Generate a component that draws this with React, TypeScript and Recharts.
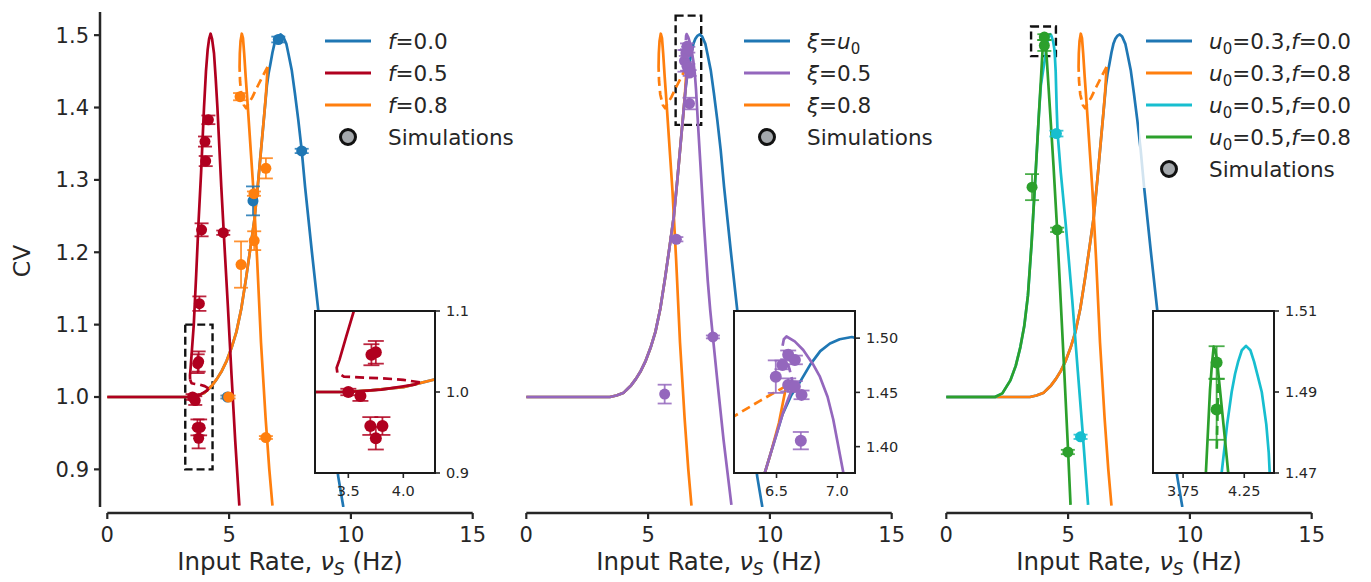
import React from 'react'
import {
  ComposedChart,
  ErrorBar,
  Line,
  ReferenceArea,
  ReferenceLine,
  Scatter,
  XAxis,
  YAxis,
} from 'recharts'

type XY = [number, number]
type Sim = [number, number, number] // x, y, y-error

const INK = '#262626'
const FONT = 'DejaVu Sans'
const BLUE = '#1f77b4'
const RED = '#b0001f'
const ORANGE = '#ff7f0e'
const PURPLE = '#9467bd'
const CYAN = '#17becf'
const GREEN = '#2ca02c'

// axes
const X_DOMAIN: [number, number] = [-0.3, 15.3]
const X_TICKS = [0, 5, 10, 15]
const Y_DOMAIN: [number, number] = [0.848, 1.532]
const Y_TICKS = [0.9, 1.0, 1.1, 1.2, 1.3, 1.4, 1.5]
const SPINE_Y = 0.8398 // offset bottom spine sits just under the plot
const SPINE_PX = 513

// shared rising branch (u0 = 0.3)
const riseU03: XY[] = [
  [0, 1], [1, 1], [2, 1], [3, 1], [3.43, 1.0], [3.7, 1.002], [4.0, 1.006],
  [4.15, 1.011], [4.3, 1.016], [4.5, 1.025], [4.7, 1.036], [4.9, 1.05],
  [5.1, 1.068], [5.3, 1.09], [5.5, 1.122], [5.7, 1.165], [5.9, 1.212],
  [6.05, 1.248], [6.2, 1.3], [6.35, 1.356], [6.45, 1.393],
]
// shared rising branch (u0 = 0.5)
const riseU05: XY[] = [
  [0, 1], [1, 1], [2, 1], [2.3, 1.005], [2.63, 1.023], [2.85, 1.043],
  [3.04, 1.069], [3.2, 1.098], [3.35, 1.14], [3.5, 1.212], [3.65, 1.3], [3.8, 1.39],
]

const blueTop: XY[] = [
  [6.55, 1.43], [6.62, 1.447], [6.69, 1.459], [6.78, 1.476], [6.86, 1.488],
  [6.94, 1.495], [7.02, 1.499], [7.12, 1.501], [7.22, 1.498], [7.35, 1.488],
  [7.45, 1.472], [7.57, 1.452], [7.7, 1.42], [7.84, 1.383], [7.98, 1.341],
  [8.12, 1.29], [8.4, 1.2], [8.66, 1.12], [9.0, 1.02], [9.3, 0.94], [9.48, 0.89],
  [9.69, 0.848],
]

const orangeFold: XY[] = [[6.52, 1.422], [6.58, 1.456]]
const orangeDash: XY[] = [
  [6.58, 1.456], [6.36, 1.442], [6.15, 1.428], [5.95, 1.414], [5.79, 1.405],
  [5.7, 1.399], [5.6, 1.404], [5.5, 1.418], [5.45, 1.436], [5.43, 1.456],
]
const orangeHigh: XY[] = [
  [5.43, 1.456], [5.44, 1.475], [5.47, 1.492], [5.52, 1.502], [5.57, 1.496],
  [5.62, 1.474], [5.68, 1.443], [5.75, 1.41], [5.82, 1.375], [5.9, 1.335],
  [6.0, 1.285], [6.15, 1.19], [6.31, 1.075], [6.5, 0.97], [6.65, 0.9], [6.78, 0.85],
]

const redLow: XY[] = [
  [0, 1], [1, 1], [2, 1], [3, 1], [3.5, 1.0], [3.8, 1.003], [4.0, 1.007],
  [4.1, 1.009], [4.15, 1.012],
]
const redDash: XY[] = [
  [4.15, 1.012], [4.0, 1.015], [3.8, 1.017], [3.6, 1.018], [3.46, 1.019], [3.4, 1.024],
]
const redHigh: XY[] = [
  [3.4, 1.024], [3.394, 1.03], [3.42, 1.04], [3.48, 1.068], [3.55, 1.1],
  [3.65, 1.17], [3.75, 1.245], [3.85, 1.31], [3.97, 1.4], [4.05, 1.45],
  [4.12, 1.48], [4.18, 1.495], [4.24, 1.502], [4.3, 1.495], [4.38, 1.475],
  [4.45, 1.44], [4.52, 1.4], [4.6, 1.345], [4.68, 1.29], [4.8, 1.215],
  [4.95, 1.125], [5.1, 1.03], [5.25, 0.94], [5.42, 0.85],
]

const purpleFold: XY[] = [[6.55, 1.43], [6.6, 1.445], [6.64, 1.456]]
const purpleDash: XY[] = [[6.64, 1.456], [6.61, 1.47], [6.575, 1.484], [6.55, 1.493]]
const purpleHigh: XY[] = [
  [6.55, 1.493], [6.56, 1.499], [6.582, 1.5015], [6.65, 1.497], [6.72, 1.489],
  [6.8, 1.476], [6.857, 1.4645], [6.92, 1.446], [6.967, 1.425], [7.05, 1.376],
  [7.15, 1.32], [7.3, 1.235], [7.45, 1.16], [7.55, 1.12], [7.66, 1.083],
  [7.85, 1.02], [8.1, 0.94], [8.42, 0.851],
]

const cyanTop: XY[] = [
  [3.88, 1.43], [4.0, 1.457], [4.065, 1.47], [4.11, 1.482], [4.147, 1.49],
  [4.175, 1.4945], [4.2, 1.4975], [4.23, 1.5003], [4.264, 1.5014], [4.3, 1.5003],
  [4.33, 1.4975], [4.36, 1.494], [4.393, 1.49], [4.43, 1.482], [4.45, 1.475],
  [4.49, 1.45], [4.53, 1.4], [4.57, 1.364], [4.7, 1.31], [4.9, 1.24],
  [5.17, 1.134], [5.4, 1.035], [5.6, 0.95], [5.82, 0.851],
]
const greenTop: XY[] = [
  [3.9, 1.448], [3.97, 1.4905], [3.985, 1.4965], [4.0, 1.5012], [4.015, 1.5],
  [4.03, 1.497], [4.06, 1.488], [4.09, 1.479], [4.119, 1.47], [4.25, 1.4],
  [4.4, 1.32], [4.55, 1.231], [4.7, 1.13], [4.85, 1.03], [5.0, 0.925], [5.1, 0.851],
]
const greenDash: XY[] = [[4.035, 1.492], [4.03, 1.483], [4.025, 1.476]]

// simulations
const simRed: Sim[] = [
  [4.15, 1.383, 0.006], [4.01, 1.353, 0.007], [4.04, 1.326, 0.007],
  [3.87, 1.231, 0.009], [4.76, 1.227, 0.003], [3.78, 1.129, 0.01],
  [3.71, 1.046, 0.013], [3.75, 1.049, 0.014], [3.5, 1.0, 0.004],
  [3.61, 0.995, 0.006], [3.7, 0.958, 0.011], [3.81, 0.958, 0.011], [3.75, 0.943, 0.014],
]
const simBlue: Sim[] = [
  [7.02, 1.494, 0.004], [7.98, 1.34, 0.003], [5.98, 1.271, 0.02], [4.93, 1.0, 0.002],
]
const simOrange: Sim[] = [
  [5.45, 1.415, 0.005], [6.51, 1.316, 0.014], [6.02, 1.281, 0.003],
  [6.03, 1.216, 0.013], [5.49, 1.183, 0.032], [4.98, 1.0, 0.002], [6.51, 0.944, 0.002],
]
const simPurple: Sim[] = [
  [5.68, 1.004, 0.013], [7.66, 1.083, 0.002], [6.16, 1.218, 0.003],
  [6.494, 1.4645, 0.015], [6.549, 1.4753, 0.004], [6.596, 1.4846, 0.004],
  [6.651, 1.4799, 0.004], [6.596, 1.4569, 0.006], [6.651, 1.4554, 0.005],
  [6.706, 1.4477, 0.004], [6.7, 1.4055, 0.008],
]
const simGreen: Sim[] = [
  [3.52, 1.29, 0.018], [4.55, 1.231, 0.003], [4.99, 0.924, 0.003],
  [4.024, 1.4973, 0.004], [4.024, 1.4857, 0.0075],
]
const simCyan: Sim[] = [[4.52, 1.364, 0.004], [5.51, 0.945, 0.003]]

interface Curve { data: XY[]; color: string; dashed?: boolean }
interface SimSet { data: Sim[]; color: string }

const curves1: Curve[] = [
  { data: [...riseU03, ...blueTop], color: BLUE },
  { data: [...riseU03, ...orangeFold], color: ORANGE },
  { data: orangeDash, color: ORANGE, dashed: true },
  { data: orangeHigh, color: ORANGE },
  { data: redLow, color: RED },
  { data: redDash, color: RED, dashed: true },
  { data: redHigh, color: RED },
]
const sims1: SimSet[] = [
  { data: simBlue, color: BLUE },
  { data: simOrange, color: ORANGE },
  { data: simRed, color: RED },
]
const curves2: Curve[] = [
  { data: [...riseU03, ...blueTop], color: BLUE },
  { data: [...riseU03, ...orangeFold], color: ORANGE },
  { data: orangeDash, color: ORANGE, dashed: true },
  { data: orangeHigh, color: ORANGE },
  { data: [...riseU03, ...purpleFold], color: PURPLE },
  { data: purpleDash, color: PURPLE, dashed: true },
  { data: purpleHigh, color: PURPLE },
]
const sims2: SimSet[] = [{ data: simPurple, color: PURPLE }]
const curves3: Curve[] = [
  { data: [...riseU03, ...blueTop], color: BLUE },
  { data: [...riseU03, ...orangeFold], color: ORANGE },
  { data: orangeDash, color: ORANGE, dashed: true },
  { data: orangeHigh, color: ORANGE },
  { data: [...riseU05, ...cyanTop], color: CYAN },
  { data: [...riseU05, ...greenTop], color: GREEN },
  { data: greenDash, color: GREEN, dashed: true },
]
const sims3: SimSet[] = [
  { data: simCyan, color: CYAN },
  { data: simGreen, color: GREEN },
]

const toPts = (a: XY[]) => a.map(([x, y]) => ({ x, y }))
const toSims = (a: Sim[]) => a.map(([x, y, err]) => ({ x, y, err }))

function renderCurves(curves: Curve[]) {
  return curves.map((c, i) => (
    <Line
      key={`c${i}`}
      data={toPts(c.data)}
      dataKey="y"
      type="linear"
      stroke={c.color}
      strokeWidth={2.7}
      strokeLinejoin="round"
      strokeDasharray={c.dashed ? '9 5' : undefined}
      dot={false}
      activeDot={false}
      isAnimationActive={false}
    />
  ))
}

function renderSims(sims: SimSet[], r: number, cap: number) {
  return sims.map((s, i) => (
    <Scatter
      key={`s${i}`}
      data={toSims(s.data)}
      dataKey="y"
      isAnimationActive={false}
      shape={(p: any) => <circle cx={p.cx} cy={p.cy} r={r} fill={s.color} />}
    >
      <ErrorBar dataKey="err" direction="y" width={cap} stroke={s.color} strokeWidth={1.8} strokeOpacity={0.85} />
    </Scatter>
  ))
}

function MainXTick(props: any) {
  const { x, payload } = props
  return (
    <g>
      <line x1={x} x2={x} y1={SPINE_PX} y2={SPINE_PX + 6} stroke={INK} strokeWidth={2.2} />
      <text x={x} y={SPINE_PX + 29} textAnchor="middle" fontSize={21} fill={INK} fontFamily={FONT}>
        {payload.value}
      </text>
    </g>
  )
}

interface PanelProps {
  left: number
  curves: Curve[]
  sims: SimSet[]
  box: [number, number, number, number]
  showY?: boolean
}

function MainPanel({ left, curves, sims, box, showY }: PanelProps) {
  return (
    <div style={{ position: 'absolute', left, top: 0 }}>
      <ComposedChart
        width={500}
        height={582}
        margin={{ top: 12, right: 20, bottom: 15, left: showY ? 0 : 100 }}
      >
        <XAxis
          type="number"
          dataKey="x"
          domain={X_DOMAIN}
          ticks={X_TICKS}
          interval={0}
          allowDataOverflow
          axisLine={false}
          tickLine={false}
          height={60}
          tick={(p: any) => <MainXTick {...p} />}
        />
        <YAxis
          type="number"
          dataKey="y"
          domain={Y_DOMAIN}
          ticks={Y_TICKS}
          interval={0}
          allowDataOverflow
          hide={!showY}
          width={100}
          tickFormatter={(v: number) => v.toFixed(1)}
          tick={{ fill: INK, fontSize: 21, fontFamily: FONT }}
          tickSize={6}
          tickMargin={5}
          tickLine={{ stroke: INK, strokeWidth: 2.2 }}
          axisLine={{ stroke: INK, strokeWidth: 2.5 }}
        />
        <ReferenceLine
          segment={[{ x: 0, y: SPINE_Y }, { x: 15, y: SPINE_Y }]}
          ifOverflow="visible"
          stroke={INK}
          strokeWidth={2.5}
        />
        {renderCurves(curves)}
        {renderSims(sims, 5.5, 7)}
        <ReferenceArea
          x1={box[0]}
          x2={box[1]}
          y1={box[2]}
          y2={box[3]}
          fill="none"
          fillOpacity={0}
          stroke="#111"
          strokeWidth={2.4}
          strokeDasharray="8 4"
          ifOverflow="visible"
        />
      </ComposedChart>
    </div>
  )
}

interface InsetProps {
  left: number
  top: number
  width: number
  height: number
  xDomain: [number, number]
  yDomain: [number, number]
  xTicks: number[]
  yTicks: number[]
  xDigits: number
  yDigits: number
  curves: Curve[]
  sims: SimSet[]
}

const INSET_PAD = 14

function Inset(p: InsetProps) {
  const tickStyle = { fill: INK, fontSize: 14.5, fontFamily: FONT }
  return (
    <>
      <div style={{ position: 'absolute', left: p.left, top: p.top, width: p.width, height: p.height, background: '#fff' }} />
      <div style={{ position: 'absolute', left: p.left, top: p.top - INSET_PAD }}>
        <ComposedChart
          width={p.width + 60}
          height={p.height + 40 + INSET_PAD}
          margin={{ top: INSET_PAD, right: 0, bottom: 0, left: 0 }}
        >
          <XAxis
            type="number"
            dataKey="x"
            domain={p.xDomain}
            ticks={p.xTicks}
            interval={0}
            allowDataOverflow
            axisLine={false}
            tickLine={{ stroke: INK, strokeWidth: 1.6 }}
            tickSize={5}
            tickMargin={8}
            height={40}
            tick={tickStyle}
            tickFormatter={(v: number) => v.toFixed(p.xDigits)}
          />
          <YAxis
            type="number"
            dataKey="y"
            orientation="right"
            domain={p.yDomain}
            ticks={p.yTicks}
            interval={0}
            allowDataOverflow
            axisLine={false}
            tickLine={{ stroke: INK, strokeWidth: 1.6 }}
            tickSize={5}
            tickMargin={6}
            width={60}
            tick={tickStyle}
            tickFormatter={(v: number) => v.toFixed(p.yDigits)}
          />
          {renderCurves(p.curves)}
          {renderSims(p.sims, 6, 8)}
        </ComposedChart>
      </div>
      <div
        style={{
          position: 'absolute',
          left: p.left - 1,
          top: p.top - 1,
          width: p.width + 2,
          height: p.height + 2,
          border: '2px solid #1a1a1a',
          boxSizing: 'border-box',
          pointerEvents: 'none',
        }}
      />
    </>
  )
}

interface LegendRow { color?: string; marker?: boolean; label: React.ReactNode }

function LegendBlock({ x, textX, rows, bg }: { x: number; textX: number; rows: LegendRow[]; bg: [number, number, number, number] }) {
  return (
    <g>
      <rect x={bg[0]} y={bg[1]} width={bg[2]} height={bg[3]} fill="#fff" fillOpacity={0.8} />
      {rows.map((r, i) => {
        const cy = 41 + 32 * i
        return (
          <g key={i}>
            {r.marker ? (
              <circle cx={x + 23} cy={cy} r={7.5} fill="#a4a8ac" stroke="#111" strokeWidth={3} />
            ) : (
              <line x1={x} x2={x + 46} y1={cy} y2={cy} stroke={r.color} strokeWidth={2.8} />
            )}
            <text x={textX} y={cy + 7.5} fontSize={21.5} fill={INK} fontFamily={FONT}>
              {r.label}
            </text>
          </g>
        )
      })}
    </g>
  )
}

const it = (s: string) => <tspan fontStyle="italic">{s}</tspan>
const u0 = (
  <>
    <tspan fontStyle="italic">u</tspan>
    <tspan fontSize={15} dy={5}>0</tspan>
  </>
)

const legend1: LegendRow[] = [
  { color: BLUE, label: <>{it('f')}=0.0</> },
  { color: RED, label: <>{it('f')}=0.5</> },
  { color: ORANGE, label: <>{it('f')}=0.8</> },
  { marker: true, label: 'Simulations' },
]
const legend2: LegendRow[] = [
  { color: BLUE, label: <>{it('ξ')}={u0}</> },
  { color: PURPLE, label: <>{it('ξ')}=0.5</> },
  { color: ORANGE, label: <>{it('ξ')}=0.8</> },
  { marker: true, label: 'Simulations' },
]
const u0Row = (a: string, f: string) => (
  <>
    {u0}
    <tspan dy={-5}>={a},</tspan>
    {it('f')}={f}
  </>
)
const legend3: LegendRow[] = [
  { color: BLUE, label: u0Row('0.3', '0.0') },
  { color: ORANGE, label: u0Row('0.3', '0.8') },
  { color: CYAN, label: u0Row('0.5', '0.0') },
  { color: GREEN, label: u0Row('0.5', '0.8') },
  { marker: true, label: 'Simulations' },
]

function XLabel({ cx }: { cx: number }) {
  return (
    <text x={cx} y={570} textAnchor="middle" fontSize={24.5} fill={INK} fontFamily={FONT}>
      Input Rate,{' '}
      <tspan fontStyle="italic">ν</tspan>
      <tspan fontStyle="italic" fontSize={17} dy={5}>S</tspan>
      <tspan dy={-5}>{' (Hz)'}</tspan>
    </text>
  )
}

export default function App() {
  return (
    <div
      style={{
        position: 'absolute',
        left: 0,
        top: 0,
        width: 1371,
        height: 582,
        background: '#fff',
        overflow: 'hidden',
        fontFamily: FONT,
      }}
    >
      <MainPanel left={0} curves={curves1} sims={sims1} box={[3.2, 4.32, 0.9, 1.1]} showY />
      <MainPanel left={419} curves={curves2} sims={sims2} box={[6.13, 7.18, 1.376, 1.527]} />
      <MainPanel left={839} curves={curves3} sims={sims3} box={[3.48, 4.5, 1.471, 1.512]} />

      <Inset
        left={315} top={311} width={120} height={162}
        xDomain={[3.197, 4.288]} yDomain={[0.9, 1.1]}
        xTicks={[3.5, 4.0]} yTicks={[0.9, 1.0, 1.1]} xDigits={1} yDigits={1}
        curves={curves1} sims={sims1}
      />
      <Inset
        left={734} top={311} width={121} height={162}
        xDomain={[6.15, 7.146]} yDomain={[1.3757, 1.525]}
        xTicks={[6.5, 7.0]} yTicks={[1.4, 1.45, 1.5]} xDigits={1} yDigits={2}
        curves={curves2} sims={sims2}
      />
      <Inset
        left={1153} top={311} width={121} height={162}
        xDomain={[3.504, 4.493]} yDomain={[1.47, 1.51]}
        xTicks={[3.75, 4.25]} yTicks={[1.47, 1.49, 1.51]} xDigits={2} yDigits={2}
        curves={curves3} sims={sims3}
      />

      <svg
        width={1371}
        height={582}
        style={{ position: 'absolute', left: 0, top: 0, pointerEvents: 'none' }}
      >
        <LegendBlock x={325} textX={388} rows={legend1} bg={[317, 18, 205, 138]} />
        <LegendBlock x={744} textX={807} rows={legend2} bg={[736, 18, 205, 138]} />
        <LegendBlock x={1146} textX={1209} rows={legend3} bg={[1139, 18, 214, 170]} />
        <text
          x={22}
          y={261}
          transform="rotate(-90 22 261)"
          textAnchor="middle"
          dominantBaseline="central"
          fontSize={23.5}
          fill={INK}
          fontFamily={FONT}
        >
          CV
        </text>
        <XLabel cx={290} />
        <XLabel cx={709} />
        <XLabel cx={1129} />
      </svg>
    </div>
  )
}
